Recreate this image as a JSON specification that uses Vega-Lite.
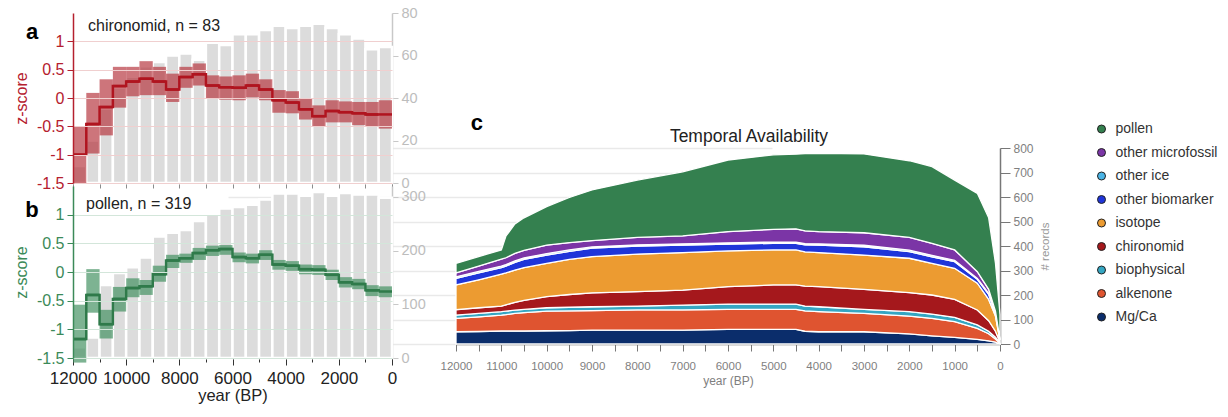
{
  "$schema": "https://vega.github.io/schema/vega-lite/v6.json",
  "background": "white",
  "width": 1228,
  "height": 417,
  "autosize": {"type": "none"},
  "padding": 0,
  "config": {"font": "Liberation Sans", "view": {"stroke": null}},
  "datasets": {
    "chironomid": [
      {"start": 12000, "end": 11500, "z": -1.0, "lo": -1.5, "hi": -0.5, "n": 8},
      {"start": 11500, "end": 11000, "z": -0.46, "lo": -0.98, "hi": 0.09, "n": 20},
      {"start": 11000, "end": 10500, "z": -0.16, "lo": -0.66, "hi": 0.33, "n": 35},
      {"start": 10500, "end": 10000, "z": 0.21, "lo": -0.17, "hi": 0.55, "n": 45},
      {"start": 10000, "end": 9500, "z": 0.29, "lo": 0.03, "hi": 0.55, "n": 50},
      {"start": 9500, "end": 9000, "z": 0.34, "lo": 0.05, "hi": 0.65, "n": 55},
      {"start": 9000, "end": 8500, "z": 0.29, "lo": 0.05, "hi": 0.55, "n": 57},
      {"start": 8500, "end": 8000, "z": 0.15, "lo": -0.07, "hi": 0.43, "n": 60},
      {"start": 8000, "end": 7500, "z": 0.37, "lo": 0.18, "hi": 0.55, "n": 61},
      {"start": 7500, "end": 7000, "z": 0.42, "lo": 0.22, "hi": 0.61, "n": 58},
      {"start": 7000, "end": 6500, "z": 0.22, "lo": -0.01, "hi": 0.40, "n": 66},
      {"start": 6500, "end": 6000, "z": 0.19, "lo": -0.03, "hi": 0.38, "n": 65},
      {"start": 6000, "end": 5500, "z": 0.18, "lo": -0.04, "hi": 0.40, "n": 70},
      {"start": 5500, "end": 5000, "z": 0.22, "lo": 0.01, "hi": 0.43, "n": 70},
      {"start": 5000, "end": 4500, "z": 0.15, "lo": -0.04, "hi": 0.33, "n": 72},
      {"start": 4500, "end": 4000, "z": -0.04, "lo": -0.26, "hi": 0.14, "n": 74},
      {"start": 4000, "end": 3500, "z": -0.08, "lo": -0.27, "hi": 0.12, "n": 73},
      {"start": 3500, "end": 3000, "z": -0.20, "lo": -0.38, "hi": -0.01, "n": 74},
      {"start": 3000, "end": 2500, "z": -0.32, "lo": -0.51, "hi": -0.13, "n": 75},
      {"start": 2500, "end": 2000, "z": -0.23, "lo": -0.43, "hi": -0.04, "n": 73},
      {"start": 2000, "end": 1500, "z": -0.25, "lo": -0.43, "hi": -0.06, "n": 70},
      {"start": 1500, "end": 1000, "z": -0.27, "lo": -0.48, "hi": -0.07, "n": 68},
      {"start": 1000, "end": 500, "z": -0.29, "lo": -0.51, "hi": -0.07, "n": 63},
      {"start": 500, "end": 0, "z": -0.29, "lo": -0.54, "hi": -0.04, "n": 64}
    ],
    "pollen": [
      {"start": 12000, "end": 11500, "z": -1.17, "lo": -1.58, "hi": -0.57, "n": 20},
      {"start": 11500, "end": 11000, "z": -0.40, "lo": -0.71, "hi": 0.05, "n": 38},
      {"start": 11000, "end": 10500, "z": -0.91, "lo": -1.16, "hi": -0.66, "n": 136},
      {"start": 10500, "end": 10000, "z": -0.47, "lo": -0.69, "hi": -0.26, "n": 158},
      {"start": 10000, "end": 9500, "z": -0.28, "lo": -0.44, "hi": -0.11, "n": 169},
      {"start": 9500, "end": 9000, "z": -0.25, "lo": -0.40, "hi": -0.14, "n": 187},
      {"start": 9000, "end": 8500, "z": -0.04, "lo": -0.17, "hi": 0.11, "n": 226},
      {"start": 8500, "end": 8000, "z": 0.20, "lo": 0.07, "hi": 0.30, "n": 233},
      {"start": 8000, "end": 7500, "z": 0.24, "lo": 0.16, "hi": 0.32, "n": 238},
      {"start": 7500, "end": 7000, "z": 0.33, "lo": 0.21, "hi": 0.42, "n": 255},
      {"start": 7000, "end": 6500, "z": 0.38, "lo": 0.28, "hi": 0.46, "n": 267},
      {"start": 6500, "end": 6000, "z": 0.40, "lo": 0.30, "hi": 0.47, "n": 278},
      {"start": 6000, "end": 5500, "z": 0.26, "lo": 0.17, "hi": 0.34, "n": 281},
      {"start": 5500, "end": 5000, "z": 0.24, "lo": 0.15, "hi": 0.32, "n": 285},
      {"start": 5000, "end": 4500, "z": 0.30, "lo": 0.21, "hi": 0.38, "n": 295},
      {"start": 4500, "end": 4000, "z": 0.13, "lo": 0.04, "hi": 0.21, "n": 306},
      {"start": 4000, "end": 3500, "z": 0.11, "lo": 0.02, "hi": 0.19, "n": 306},
      {"start": 3500, "end": 3000, "z": 0.05, "lo": -0.04, "hi": 0.13, "n": 302},
      {"start": 3000, "end": 2500, "z": 0.04, "lo": -0.05, "hi": 0.12, "n": 309},
      {"start": 2500, "end": 2000, "z": -0.05, "lo": -0.14, "hi": 0.04, "n": 302},
      {"start": 2000, "end": 1500, "z": -0.18, "lo": -0.27, "hi": -0.09, "n": 307},
      {"start": 1500, "end": 1000, "z": -0.21, "lo": -0.30, "hi": -0.12, "n": 304},
      {"start": 1000, "end": 500, "z": -0.32, "lo": -0.42, "hi": -0.23, "n": 304},
      {"start": 500, "end": 0, "z": -0.34, "lo": -0.44, "hi": -0.25, "n": 298}
    ],
    "availability": [
      {"year": 12000, "Mg/Ca": 50, "alkenone": 55, "biophysical": 13, "chironomid": 22, "isotope": 101, "other biomarker": 27, "other ice": 6, "other microfossil": 16, "pollen": 39},
      {"year": 11500, "Mg/Ca": 51, "alkenone": 60, "biophysical": 14, "chironomid": 23, "isotope": 114, "other biomarker": 28, "other ice": 6, "other microfossil": 22, "pollen": 39},
      {"year": 11000, "Mg/Ca": 53, "alkenone": 65, "biophysical": 14, "chironomid": 23, "isotope": 130, "other biomarker": 27, "other ice": 6, "other microfossil": 28, "pollen": 38},
      {"year": 10900, "Mg/Ca": 53, "alkenone": 67, "biophysical": 14, "chironomid": 26, "isotope": 130, "other biomarker": 28, "other ice": 6, "other microfossil": 28, "pollen": 88},
      {"year": 10700, "Mg/Ca": 53, "alkenone": 72, "biophysical": 13, "chironomid": 32, "isotope": 132, "other biomarker": 31, "other ice": 6, "other microfossil": 31, "pollen": 120},
      {"year": 10500, "Mg/Ca": 53, "alkenone": 75, "biophysical": 13, "chironomid": 37, "isotope": 134, "other biomarker": 33, "other ice": 6, "other microfossil": 31, "pollen": 133},
      {"year": 10000, "Mg/Ca": 54, "alkenone": 80, "biophysical": 14, "chironomid": 45, "isotope": 136, "other biomarker": 34, "other ice": 6, "other microfossil": 35, "pollen": 157},
      {"year": 9500, "Mg/Ca": 55, "alkenone": 80, "biophysical": 15, "chironomid": 52, "isotope": 143, "other biomarker": 33, "other ice": 6, "other microfossil": 30, "pollen": 184},
      {"year": 9000, "Mg/Ca": 57, "alkenone": 79, "biophysical": 16, "chironomid": 57, "isotope": 148, "other biomarker": 34, "other ice": 5, "other microfossil": 26, "pollen": 207},
      {"year": 8000, "Mg/Ca": 57, "alkenone": 82, "biophysical": 16, "chironomid": 59, "isotope": 153, "other biomarker": 33, "other ice": 5, "other microfossil": 30, "pollen": 234},
      {"year": 7000, "Mg/Ca": 57, "alkenone": 82, "biophysical": 20, "chironomid": 61, "isotope": 153, "other biomarker": 31, "other ice": 5, "other microfossil": 32, "pollen": 262},
      {"year": 6000, "Mg/Ca": 60, "alkenone": 81, "biophysical": 22, "chironomid": 71, "isotope": 146, "other biomarker": 28, "other ice": 5, "other microfossil": 46, "pollen": 292},
      {"year": 5000, "Mg/Ca": 60, "alkenone": 81, "biophysical": 22, "chironomid": 78, "isotope": 143, "other biomarker": 27, "other ice": 5, "other microfossil": 52, "pollen": 304},
      {"year": 4500, "Mg/Ca": 60, "alkenone": 81, "biophysical": 22, "chironomid": 78, "isotope": 143, "other biomarker": 27, "other ice": 5, "other microfossil": 54, "pollen": 305},
      {"year": 4300, "Mg/Ca": 52, "alkenone": 83, "biophysical": 20, "chironomid": 81, "isotope": 140, "other biomarker": 29, "other ice": 5, "other microfossil": 52, "pollen": 315},
      {"year": 4000, "Mg/Ca": 50, "alkenone": 82, "biophysical": 20, "chironomid": 82, "isotope": 139, "other biomarker": 31, "other ice": 5, "other microfossil": 50, "pollen": 319},
      {"year": 3000, "Mg/Ca": 50, "alkenone": 75, "biophysical": 16, "chironomid": 82, "isotope": 140, "other biomarker": 34, "other ice": 6, "other microfossil": 51, "pollen": 322},
      {"year": 2000, "Mg/Ca": 41, "alkenone": 73, "biophysical": 18, "chironomid": 78, "isotope": 140, "other biomarker": 27, "other ice": 6, "other microfossil": 52, "pollen": 313},
      {"year": 1500, "Mg/Ca": 33, "alkenone": 72, "biophysical": 17, "chironomid": 78, "isotope": 129, "other biomarker": 27, "other ice": 6, "other microfossil": 49, "pollen": 313},
      {"year": 1000, "Mg/Ca": 27, "alkenone": 64, "biophysical": 18, "chironomid": 73, "isotope": 127, "other biomarker": 27, "other ice": 5, "other microfossil": 43, "pollen": 285},
      {"year": 500, "Mg/Ca": 19, "alkenone": 45, "biophysical": 14, "chironomid": 61, "isotope": 109, "other biomarker": 16, "other ice": 4, "other microfossil": 27, "pollen": 320},
      {"year": 250, "Mg/Ca": 13, "alkenone": 29, "biophysical": 10, "chironomid": 43, "isotope": 87, "other biomarker": 21, "other ice": 4, "other microfossil": 16, "pollen": 292},
      {"year": 100, "Mg/Ca": 8, "alkenone": 12, "biophysical": 8, "chironomid": 24, "isotope": 62, "other biomarker": 10, "other ice": 3, "other microfossil": 7, "pollen": 196},
      {"year": 0, "Mg/Ca": 1, "alkenone": 2, "biophysical": 1, "chironomid": 4, "isotope": 6, "other biomarker": 2, "other ice": 1, "other microfossil": 1, "pollen": 102}
    ],
    "stackOrder": [
      {"proxy": "Mg/Ca", "rank": 1},
      {"proxy": "alkenone", "rank": 2},
      {"proxy": "biophysical", "rank": 3},
      {"proxy": "chironomid", "rank": 4},
      {"proxy": "isotope", "rank": 5},
      {"proxy": "other biomarker", "rank": 6},
      {"proxy": "other ice", "rank": 7},
      {"proxy": "other microfossil", "rank": 8},
      {"proxy": "pollen", "rank": 9}
    ]
  },
  "layer": [
    {
      "data": {"name": "chironomid"},
      "mark": {"type": "rect", "color": "#dcdcdc", "stroke": "#ffffff", "strokeWidth": 2.5},
      "encoding": {
        "x": {"field": "start", "type": "quantitative", "scale": {"domain": [12000, 0], "range": [73, 392], "nice": false},
          "axis": {"orient": "bottom", "offset": -234, "values": [12000, 11000, 10000, 9000, 8000, 7000, 6000, 5000, 4000, 3000, 2000, 1000, 0], "labels": false, "domain": false, "grid": false, "tickColor": "#8c8c8c", "tickSize": 5, "title": null}},
        "x2": {"field": "end"},
        "y": {"field": "n", "type": "quantitative", "scale": {"domain": [0, 80], "range": [183, 13], "nice": false},
          "axis": {"orient": "right", "offset": -836, "values": [0, 20, 40, 60, 80], "grid": false, "domainColor": "#c8c8c8", "domainWidth": 1.5, "tickColor": "#c8c8c8", "tickSize": 6, "labelColor": "#bdbdbd", "labelFontSize": 14.5, "labelPadding": 3, "title": null}},
        "y2": {"datum": 0}
      }
    },
    {
      "data": {"name": "chironomid"},
      "layer": [
        {
          "mark": {"type": "rect", "color": "#b5333d", "opacity": 0.68, "clip": true},
          "encoding": {
            "x": {"field": "start", "type": "quantitative", "scale": {"domain": [12000, 0], "range": [73, 392], "nice": false}, "axis": null},
            "x2": {"field": "end"},
            "y": {"field": "lo", "type": "quantitative", "scale": {"domain": [-1.5, 1.5], "range": [183, 13], "nice": false},
              "axis": {"orient": "left", "offset": -73, "zindex": 1, "values": [-1.5, -1, -0.5, 0, 0.5, 1], "format": "~g", "labelExpr": "replace(datum.label, '−', '-')", "grid": true, "gridColor": "#f0cfcf", "gridWidth": 1, "domainColor": "#b5202e", "domainWidth": 1.5, "tickColor": "#b5202e", "tickSize": 6, "labelColor": "#b5202e", "labelFontSize": 16, "labelPadding": 3, "title": "z-score", "titleColor": "#b5202e", "titleFontSize": 16, "titleFontWeight": "normal", "titlePadding": 7}},
            "y2": {"field": "hi"}
          }
        },
        {
          "mark": {"type": "rule", "color": "#b0141f", "strokeWidth": 2.5},
          "encoding": {
            "x": {"field": "start", "type": "quantitative"},
            "x2": {"field": "end"},
            "y": {"field": "z", "type": "quantitative"}
          }
        },
        {
          "mark": {"type": "line", "interpolate": "step-after", "color": "#b0141f", "strokeWidth": 2.5},
          "encoding": {
            "x": {"field": "start", "type": "quantitative"},
            "y": {"field": "z", "type": "quantitative"}
          }
        },
        {
          "data": {"values": [{"label": "chironomid, n = 83"}]},
          "mark": {"type": "text", "align": "left", "baseline": "alphabetic", "fontSize": 16, "color": "#222222"},
          "encoding": {
            "x": {"datum": 11436, "type": "quantitative"},
            "y": {"datum": 1.19, "type": "quantitative"},
            "text": {"field": "label"}
          }
        },
        {
          "data": {"values": [{"label": "a"}]},
          "mark": {"type": "text", "align": "center", "baseline": "alphabetic", "fontSize": 22, "fontWeight": "bold", "color": "#000000"},
          "encoding": {
            "x": {"datum": 13542, "type": "quantitative"},
            "y": {"datum": 1.05, "type": "quantitative"},
            "text": {"field": "label"}
          }
        }
      ]
    },
    {
      "data": {"name": "pollen"},
      "mark": {"type": "rect", "color": "#dcdcdc", "stroke": "#ffffff", "strokeWidth": 2.5},
      "encoding": {
        "x": {"field": "start", "type": "quantitative", "scale": {"domain": [12000, 0], "range": [73, 392], "nice": false},
          "axis": {"orient": "bottom", "offset": -59, "values": [12000, 11000, 10000, 9000, 8000, 7000, 6000, 5000, 4000, 3000, 2000, 1000, 0], "format": "d", "labelExpr": "datum.value % 2000 === 0 ? datum.label : ''", "labelFlush": false, "labelOverlap": false, "labelFontSize": 17, "labelColor": "#222222", "labelPadding": 5, "domain": false, "grid": false, "tickColor": "#333333", "tickSize": {"condition": {"test": "datum.value % 2000 === 0", "value": 7}, "value": 4}, "title": "year (BP)", "titleFontSize": 16.5, "titleFontWeight": "normal", "titleColor": "#222222", "titlePadding": 1}},
        "x2": {"field": "end"},
        "y": {"field": "n", "type": "quantitative", "scale": {"domain": [0, 320], "range": [358, 186], "nice": false},
          "axis": {"orient": "right", "offset": -836, "values": [0, 100, 200, 300], "grid": false, "domainColor": "#c8c8c8", "domainWidth": 1.5, "tickColor": "#c8c8c8", "tickSize": 6, "labelColor": "#bdbdbd", "labelFontSize": 14.5, "labelPadding": 3, "title": null}},
        "y2": {"datum": 0}
      }
    },
    {
      "data": {"name": "pollen"},
      "layer": [
        {
          "mark": {"type": "rect", "color": "#3f8f5e", "opacity": 0.68, "clip": true},
          "encoding": {
            "x": {"field": "start", "type": "quantitative", "scale": {"domain": [12000, 0], "range": [73, 392], "nice": false}, "axis": null},
            "x2": {"field": "end"},
            "y": {"field": "lo", "type": "quantitative", "scale": {"domain": [-1.5, 1.5], "range": [358, 186], "nice": false},
              "axis": {"orient": "left", "offset": -73, "zindex": 1, "values": [-1.5, -1, -0.5, 0, 0.5, 1], "format": "~g", "labelExpr": "replace(datum.label, '−', '-')", "grid": true, "gridColor": "#d3e6da", "gridWidth": 1, "domainColor": "#3b8a58", "domainWidth": 1.5, "tickColor": "#3b8a58", "tickSize": 6, "labelColor": "#3b8a58", "labelFontSize": 16, "labelPadding": 3, "title": "z-score", "titleColor": "#3b8a58", "titleFontSize": 16, "titleFontWeight": "normal", "titlePadding": 7}},
            "y2": {"field": "hi"}
          }
        },
        {
          "mark": {"type": "rule", "color": "#2f7a4a", "strokeWidth": 2.5},
          "encoding": {
            "x": {"field": "start", "type": "quantitative"},
            "x2": {"field": "end"},
            "y": {"field": "z", "type": "quantitative"}
          }
        },
        {
          "mark": {"type": "line", "interpolate": "step-after", "color": "#2f7a4a", "strokeWidth": 2.5},
          "encoding": {
            "x": {"field": "start", "type": "quantitative"},
            "y": {"field": "z", "type": "quantitative"}
          }
        },
        {
          "data": {"values": [{"label": "pollen, n = 319"}]},
          "mark": {"type": "text", "align": "left", "baseline": "alphabetic", "fontSize": 16, "color": "#222222"},
          "encoding": {
            "x": {"datum": 11511, "type": "quantitative"},
            "y": {"datum": 1.1, "type": "quantitative"},
            "text": {"field": "label"}
          }
        },
        {
          "data": {"values": [{"label": "b"}]},
          "mark": {"type": "text", "align": "center", "baseline": "alphabetic", "fontSize": 22, "fontWeight": "bold", "color": "#000000"},
          "encoding": {
            "x": {"datum": 13542, "type": "quantitative"},
            "y": {"datum": 0.96, "type": "quantitative"},
            "text": {"field": "label"}
          }
        }
      ]
    },
    {
      "data": {"name": "availability"},
      "layer": [
        {
          "transform": [
            {"fold": ["Mg/Ca", "alkenone", "biophysical", "chironomid", "isotope", "other biomarker", "other ice", "other microfossil", "pollen"], "as": ["proxy", "records"]},
            {"lookup": "proxy", "from": {"data": {"name": "stackOrder"}, "key": "proxy", "fields": ["rank"]}}
          ],
          "mark": {"type": "area", "stroke": "#ffffff", "strokeWidth": 1.3, "interpolate": "linear"},
          "encoding": {
            "x": {"field": "year", "type": "quantitative", "scale": {"domain": [12000, 0], "range": [456, 1000], "nice": false},
              "axis": {"orient": "bottom", "offset": -73, "values": [12000, 11500, 11000, 10500, 10000, 9500, 9000, 8500, 8000, 7500, 7000, 6500, 6000, 5500, 5000, 4500, 4000, 3500, 3000, 2500, 2000, 1500, 1000, 500, 0], "format": "d", "labelExpr": "datum.value % 1000 === 0 ? datum.label : ''", "labelFlush": false, "labelOverlap": false, "labelFontSize": 11.5, "labelColor": "#7f7f7f", "labelPadding": 9, "domainColor": "#777777", "domainWidth": 1.5, "tickColor": "#777777", "tickSize": 7, "grid": false, "title": "year (BP)", "titleFontSize": 12, "titleFontWeight": "normal", "titleColor": "#7f7f7f", "titlePadding": 4}},
            "y": {"field": "records", "type": "quantitative", "stack": "zero", "scale": {"domain": [0, 800], "range": [344, 148], "nice": false},
              "axis": {"orient": "right", "offset": -228, "values": [0, 50, 100, 150, 200, 250, 300, 350, 400, 450, 500, 550, 600, 650, 700, 750, 800], "labelExpr": "datum.value % 100 === 0 ? datum.label : ''", "labelFontSize": 12, "labelColor": "#7f7f7f", "labelPadding": 3, "domainColor": "#777777", "domainWidth": 1.5, "tickColor": "#777777", "tickSize": {"condition": {"test": "datum.value % 100 === 0", "value": 10}, "value": 5}, "grid": true, "gridColor": "#e9e9e9", "gridWidth": 1.5, "gridOpacity": {"condition": {"test": "datum.value % 100 === 0", "value": 1}, "value": 0}, "title": "# records", "titleAngle": 270, "titleBaseline": "top", "titleFontSize": 11.5, "titleFontWeight": "normal", "titleColor": "#999999", "titlePadding": 6}},
            "color": {"field": "proxy", "type": "nominal",
              "scale": {"domain": ["pollen", "other microfossil", "other ice", "other biomarker", "isotope", "chironomid", "biophysical", "alkenone", "Mg/Ca"],
                "range": ["#34804f", "#7b35a6", "#4ab4e6", "#1f35d9", "#ec9b31", "#a5181c", "#35a6c2", "#df5430", "#0b2d6b"]},
              "legend": {"title": null, "orient": "none", "legendX": 1094.5, "legendY": 122, "padding": 0, "symbolType": "circle", "symbolSize": 64, "symbolStrokeColor": "#222222", "symbolStrokeWidth": 1, "labelFontSize": 14, "labelColor": "#333333", "labelOffset": 7, "rowPadding": 9.5,
                "encode": {"symbols": {"update": {"stroke": {"value": "#222222"}, "strokeWidth": {"value": 1}}}}}},
            "order": {"field": "rank", "type": "quantitative"}
          }
        },
        {
          "data": {"values": [{"label": "c"}]},
          "mark": {"type": "text", "align": "center", "baseline": "alphabetic", "fontSize": 22, "fontWeight": "bold", "color": "#000000"},
          "encoding": {
            "x": {"datum": 11537, "type": "quantitative"},
            "y": {"datum": 873, "type": "quantitative"},
            "text": {"field": "label"}
          }
        },
        {
          "data": {"values": [{"label": "Temporal Availability"}]},
          "mark": {"type": "text", "align": "center", "baseline": "alphabetic", "fontSize": 17.5, "color": "#222222"},
          "encoding": {
            "x": {"datum": 5537, "type": "quantitative"},
            "y": {"datum": 824, "type": "quantitative"},
            "text": {"field": "label"}
          }
        }
      ]
    }
  ],
  "resolve": {"scale": {"x": "independent", "y": "independent"}}
}
